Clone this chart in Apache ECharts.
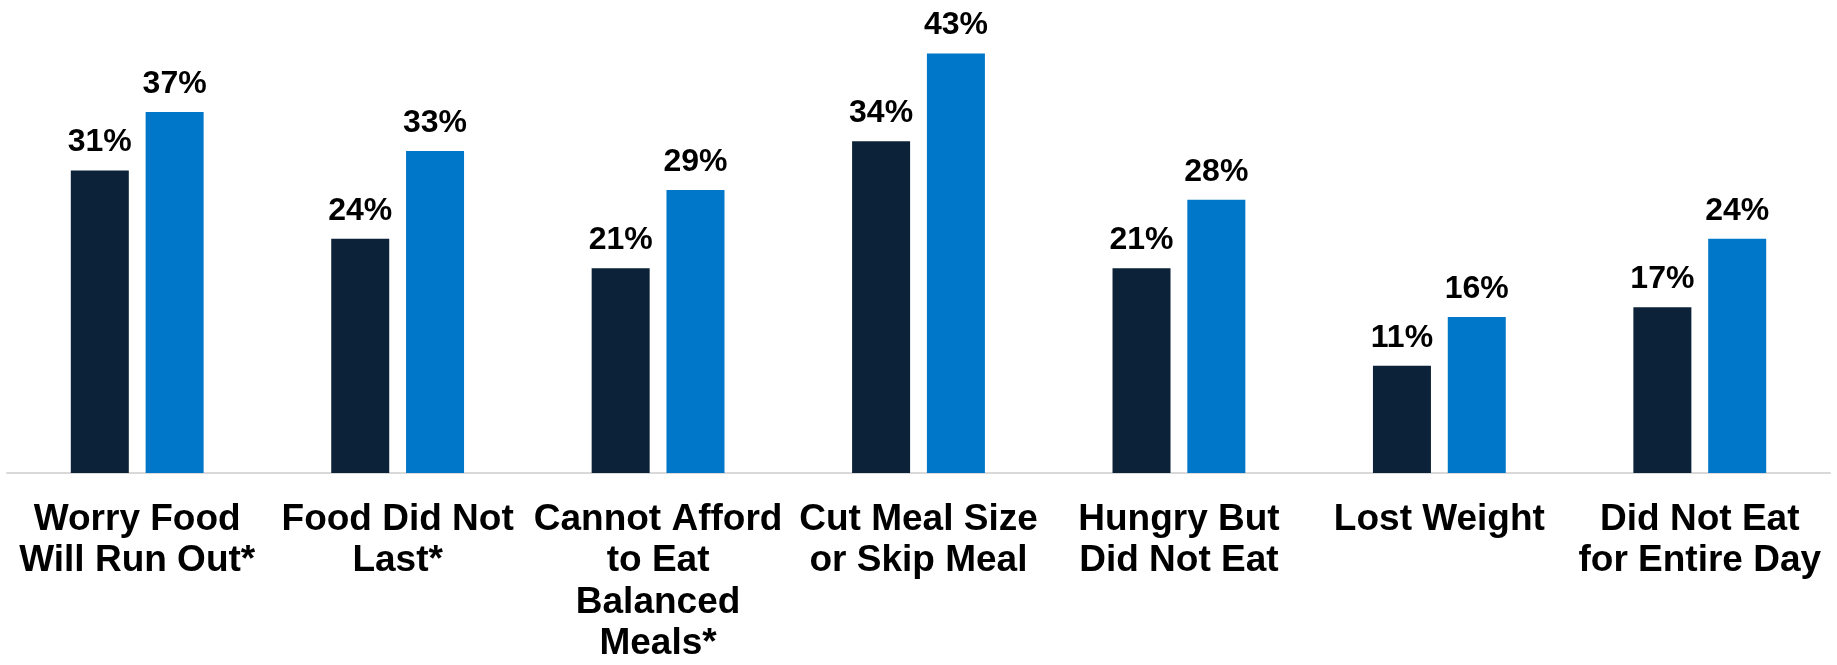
<!DOCTYPE html>
<html>
<head>
<meta charset="utf-8">
<script src="https://cdn.jsdelivr.net/npm/echarts@6/dist/echarts.min.js"></script>
<style>
html,body{margin:0;padding:0;background:#fff;}
#chart{width:1837px;height:665px;}
</style>
</head>
<body>
<div id="chart"></div>
<script>
const categories = [
  "Worry Food\nWill Run Out*",
  "Food Did Not\nLast*",
  "Cannot Afford\nto Eat\nBalanced\nMeals*",
  "Cut Meal Size\nor Skip Meal",
  "Hungry But\nDid Not Eat",
  "Lost Weight",
  "Did Not Eat\nfor Entire Day"
];
const seriesDark = [31, 24, 21, 34, 21, 11, 17];
const seriesBlue = [37, 33, 29, 43, 28, 16, 24];

const FONT = '"Liberation Sans", Arial, Helvetica, sans-serif';
const chart = echarts.init(document.getElementById('chart'), null, {renderer: 'canvas'});
const labelCfg = {
  show: true,
  position: 'top',
  distance: 12,
  formatter: p => p.value + '%',
  fontFamily: FONT,
  fontWeight: 'bold',
  fontSize: 32,
  color: '#000'
};
chart.setOption({
  animation: false,
  grid: {left: 7, right: 7, top: 34, bottom: 190, containLabel: false},
  xAxis: {
    type: 'category',
    data: categories,
    axisLine: {show: true, lineStyle: {color: '#d9d9d9', width: 2}},
    axisTick: {show: false},
    axisLabel: {
      interval: 0,
      margin: 26,
      fontFamily: FONT,
      fontWeight: 'bold',
      fontSize: 37,
      lineHeight: 41.5,
      color: '#000',
      align: 'center',
      verticalAlign: 'top'
    }
  },
  yAxis: {
    type: 'value',
    min: 0,
    max: 45,
    show: false,
    splitLine: {show: false}
  },
  series: [
    {
      type: 'bar',
      data: seriesDark,
      barWidth: 58,
      barGap: '29%',
      itemStyle: {color: '#0b2239'},
      label: labelCfg
    },
    {
      type: 'bar',
      data: seriesBlue,
      barWidth: 58,
      itemStyle: {color: '#0077c8'},
      label: labelCfg
    }
  ]
});
</script>
</body>
</html>
